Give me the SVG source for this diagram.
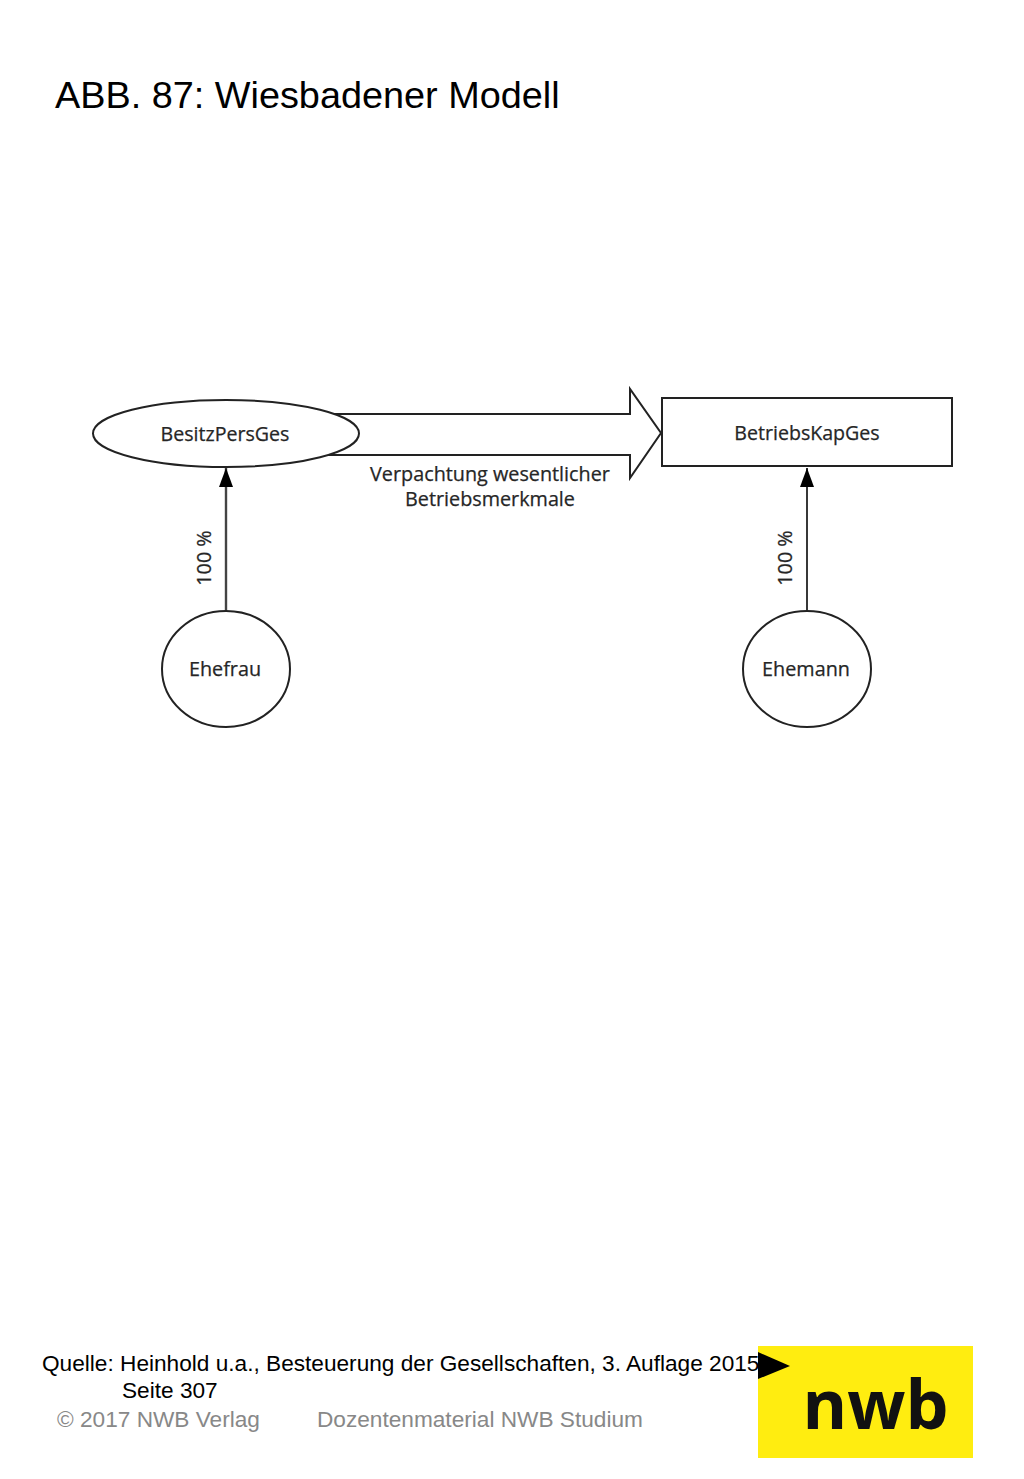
<svg xmlns="http://www.w3.org/2000/svg" width="1024" height="1479" viewBox="0 0 1024 1479">
<style>
.s{fill:#fff;stroke:#222;stroke-width:2}
.d{font-family:"Open Sans","Noto Sans",sans-serif;font-size:19.8px;fill:#262626;stroke:#262626;stroke-width:.25}
.n{font-size:19.6px}
.m{text-anchor:middle}
.h{font-family:"Liberation Sans",Arial,sans-serif;fill:#000}
.g{font-family:"Liberation Sans",Arial,sans-serif;font-size:22.65px;fill:#888}
</style>
<defs><marker id="a" markerUnits="userSpaceOnUse" markerWidth="19" markerHeight="14" refX="19" refY="7" orient="auto"><path d="M0 0L19 7L0 14Z" fill="#000"/></marker></defs>
<rect width="1024" height="1479" fill="#fff"/>
<text class="h" x="55" y="108" font-size="37.850">ABB. 87: Wiesbadener Modell</text>
<g id="connectors">
<path id="big-arrow" class="s" d="M300 414H630V389L661 433L630 478V455H300Z"/>
<line x1="226" y1="611" x2="226" y2="468" stroke="#444" stroke-width="2.400" marker-end="url(#a)"/>
<line x1="807" y1="611" x2="807" y2="468" stroke="#222" stroke-width="1.800" marker-end="url(#a)"/>
</g>
<g id="besitz"><ellipse class="s" cx="226" cy="433.500" rx="133" ry="33.500"/><text class="d n m" x="225" y="441">BesitzPersGes</text></g>
<g id="betrieb"><rect class="s" x="662" y="398" width="290" height="68"/><text class="d n m" x="807" y="440">BetriebsKapGes</text></g>
<g id="frau"><ellipse class="s" cx="226" cy="669" rx="64" ry="58"/><text class="d m" x="225" y="676">Ehefrau</text></g>
<g id="mann"><ellipse class="s" cx="807" cy="669" rx="64" ry="58"/><text class="d m" x="806" y="676">Ehemann</text></g>
<text class="d m" x="490" y="481">Verpachtung wesentlicher</text>
<text class="d m" x="490" y="506">Betriebsmerkmale</text>
<text class="d m" transform="translate(211,558) rotate(-90)">100 %</text>
<text class="d m" transform="translate(792,558) rotate(-90)">100 %</text>
<g id="logo"><rect x="758" y="1346" width="215" height="112" fill="#ffed10"/><text x="875.500" y="1429" text-anchor="middle" font-family="'Open Sans',sans-serif" font-weight="700" font-size="68" fill="#111">nwb</text></g>
<text class="h" x="42" y="1371" font-size="22.650">Quelle: Heinhold u.a., Besteuerung der Gesellschaften, 3. Auflage 2015,</text>
<text class="h" x="122" y="1398" font-size="22.650">Seite 307</text>
<text class="g" x="57" y="1427">© 2017 NWB Verlag</text>
<text class="g" x="317" y="1427">Dozentenmaterial NWB Studium</text>
<path d="M758 1352L790 1366L758 1379Z" fill="#000"/>
</svg>
